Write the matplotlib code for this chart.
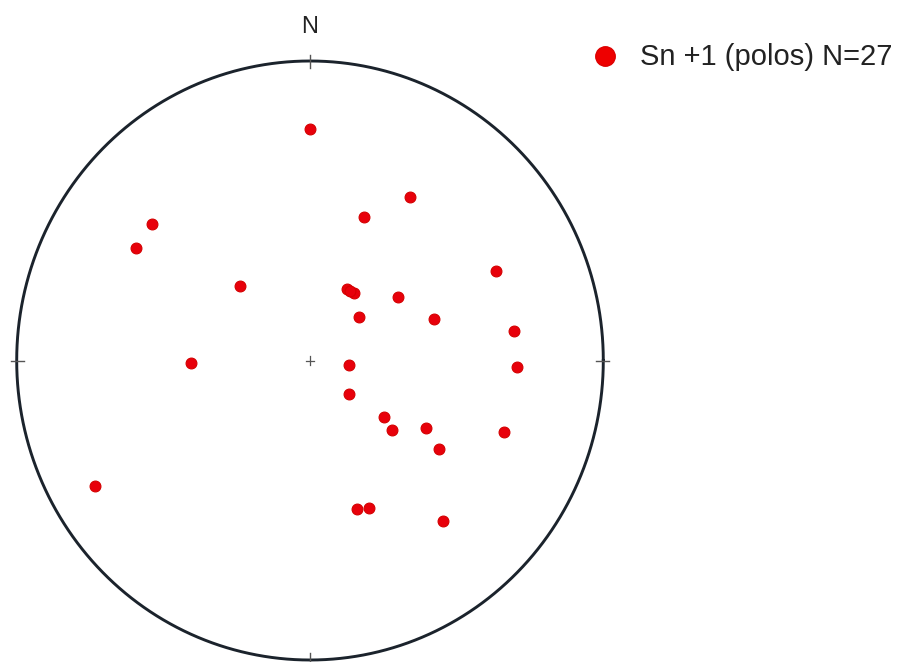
import numpy as np
import matplotlib.pyplot as plt

# poles to Sn +1, projected (equal-area, lower hemisphere), unit circle coords
east = [0.000, 0.341, 0.184, -0.538, -0.594, 0.634, -0.239, 0.125, 0.151,
        0.138, 0.299, 0.168, 0.424, 0.696, -0.406, 0.133, 0.705, 0.134,
        0.253, 0.280, 0.394, 0.661, 0.441, -0.733, 0.161, 0.202, 0.454]
north = [0.773, 0.547, 0.480, 0.455, 0.375, 0.299, 0.250, 0.239, 0.224,
         0.232, 0.213, 0.144, 0.140, 0.100, -0.008, -0.015, -0.023, -0.112,
         -0.188, -0.232, -0.224, -0.239, -0.295, -0.419, -0.496, -0.493, -0.536]
label = "Sn +1 (polos) N=%d" % len(east)

plt.rcParams['font.family'] = ['Liberation Sans', 'DejaVu Sans']

fig = plt.figure(figsize=(9.16, 6.62), dpi=100)
W, H = 916, 662
ax = fig.add_axes([16.7 / W, 2.0 / H, 586.6 / W, 599.0 / H])
ax.set_xlim(-1, 1)
ax.set_ylim(-1, 1)
ax.axis('off')

# primitive circle
t = np.linspace(0, 2 * np.pi, 721)
ax.plot(np.cos(t), np.sin(t), color='#1b232c', lw=2.1, clip_on=False, zorder=2)

# ticks at N, E, S, W
for a in [0, 90, 180, 270]:
    r = np.radians(a)
    ax.plot([0.975 * np.sin(r), 1.02 * np.sin(r)],
            [0.975 * np.cos(r), 1.02 * np.cos(r)],
            color='#555555', lw=1.0, clip_on=False, zorder=2)

# centre cross
ax.plot([-0.014, 0.014], [0, 0], color='#555555', lw=0.9)
ax.plot([0, 0], [-0.014, 0.014], color='#555555', lw=0.9)

ax.text(0, 1.113, "N", ha='center', va='center', fontsize=17, color='#222222')

ax.plot(east, north, 'o', ms=7.8, color='#e8000b', mec='#d40000', mew=0.8,
        linestyle='none', zorder=3, clip_on=False)

# legend
fig.lines.append(plt.Line2D([605 / W], [1 - 56 / H], marker='o', ms=14,
                            color='#ee0000', mec='#dd0000',
                            transform=fig.transFigure))
fig.text(640 / W, 1 - 57 / H, label, ha='left', va='center',
         fontsize=21, color='#222222')

fig.savefig('out.png', dpi=100, facecolor='white')
